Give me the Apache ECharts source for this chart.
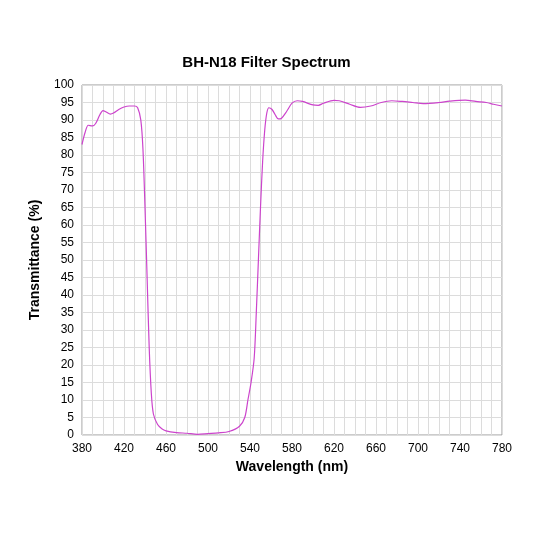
<!DOCTYPE html>
<html><head><meta charset="utf-8">
<script src="https://cdn.jsdelivr.net/npm/echarts@6/dist/echarts.min.js"></script>
<style>html,body{margin:0;padding:0;background:#fff}#c{width:533px;height:533px}</style>
</head><body><div id="c"></div>
<script>
var wavelengths = [380,383,386,390,393,397,400,403,407,410,415,420,425,430,433,436,438,440,442,444,446,448,452,456,460,470,480,490,500,510,520,530,535,538,541,544,546,548,550,552,554,556,558,561,564,567,570,575,580,585,590,600,605,610,620,625,635,645,655,665,675,685,695,705,720,730,745,755,765,772,780];
var transmittance = [83,86.5,88.5,88.3,89,91.5,92.7,92.3,91.7,92,93,93.7,94,94,93.5,90,82,65,45,25,12,6,3,1.8,1.2,0.7,0.5,0.2,0.4,0.6,1,2.5,5,10,15,22,35,50,65,78,87,92,93.5,93,91.5,90.3,90.5,92.5,94.8,95.5,95.3,94.3,94.2,94.8,95.6,95.5,94.5,93.6,94,95,95.5,95.3,95,94.7,95,95.4,95.7,95.3,95,94.5,94];
var data = wavelengths.map(function(w,i){return [w, transmittance[i]];});
var chart = echarts.init(document.getElementById('c'));
chart.setOption({
  animation:false,
  title:{text:'BH-N18 Filter Spectrum',left:'center',top:50,textStyle:{fontFamily:'Liberation Sans',fontWeight:'bold',fontSize:15,color:'#000'}},
  grid:{left:82,right:31,top:85,bottom:98,show:true,borderColor:'#999',borderWidth:1},
  xAxis:{type:'value',min:380,max:780,interval:10,name:'Wavelength (nm)',nameLocation:'middle',nameGap:24,
    nameTextStyle:{fontFamily:'Liberation Sans',fontWeight:'bold',fontSize:14,color:'#000'},
    axisLine:{show:false},axisTick:{show:false},
    axisLabel:{fontFamily:'Liberation Sans',fontSize:12,color:'#000',margin:8,formatter:function(v){return (v-380)%40===0?String(v):'';}},
    splitLine:{lineStyle:{color:'#dcdcdc'}}},
  yAxis:{type:'value',min:0,max:100,interval:5,name:'Transmittance (%)',nameLocation:'middle',nameGap:40,
    nameTextStyle:{fontFamily:'Liberation Sans',fontWeight:'bold',fontSize:14,color:'#000'},
    axisLine:{show:false},axisTick:{show:false},
    axisLabel:{fontFamily:'Liberation Sans',fontSize:12,color:'#000',margin:8},
    splitLine:{lineStyle:{color:'#dcdcdc'}}},
  series:[{type:'line',data:data,smooth:0.3,showSymbol:false,lineStyle:{color:'#cc44cc',width:1.2}}]
});
</script></body></html>
